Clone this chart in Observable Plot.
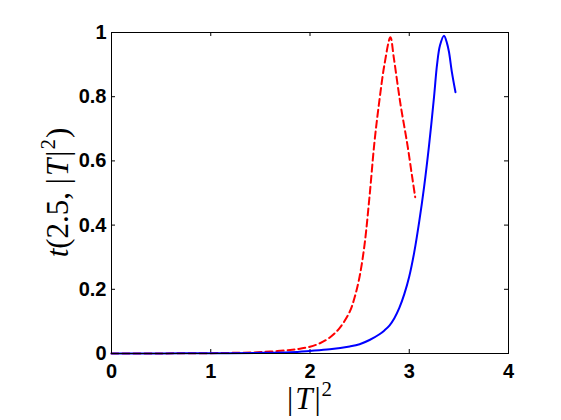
<!DOCTYPE html>
<html><head><meta charset="utf-8">
<script src="https://cdn.jsdelivr.net/npm/d3@7"></script>
<script src="https://cdn.jsdelivr.net/npm/@observablehq/plot@0.6"></script>
<style>body{margin:0;background:#fff}</style>
</head><body><div id="chart"></div>
<script>
// Solid blue curve
const blueX = [0, 0.5, 1.0, 1.5, 1.8, 2.0, 2.2, 2.4, 2.5, 2.6, 2.7, 2.75, 2.8, 2.85, 2.9, 2.95, 3.0, 3.05, 3.1, 3.15, 3.2, 3.25, 3.28, 3.31, 3.35, 3.38, 3.40, 3.43, 3.466];
const blueY = [0, 0.0002, 0.0008, 0.002, 0.004, 0.008, 0.013, 0.022, 0.029, 0.042, 0.06, 0.072, 0.087, 0.11, 0.142, 0.185, 0.24, 0.315, 0.41, 0.52, 0.65, 0.8, 0.9, 0.96, 0.99, 0.967, 0.94, 0.876, 0.814];
// Dashed red curve
const redX = [0, 0.5, 1.0, 1.2, 1.4, 1.6, 1.8, 1.9, 2.0, 2.1, 2.2, 2.3, 2.4, 2.45, 2.5, 2.55, 2.6, 2.65, 2.7, 2.75, 2.81, 2.845, 2.91, 2.98, 3.03, 3.06];
const redY = [0, 0.0003, 0.001, 0.002, 0.003, 0.006, 0.011, 0.015, 0.021, 0.032, 0.05, 0.08, 0.13, 0.175, 0.24, 0.34, 0.49, 0.66, 0.79, 0.9, 0.985, 0.92, 0.78, 0.653, 0.549, 0.487];
// Ticks
const xTicks = [0, 1, 2, 3, 4];
const yTicks = [0, 0.2, 0.4, 0.6, 0.8, 1];
const yTickLabels = ["0", "0.2", "0.4", "0.6", "0.8", "1"];

const blue = blueX.map((x, i) => ({x, y: blueY[i]}));
const red = redX.map((x, i) => ({x, y: redY[i]}));

const W = 561, H = 420, mL = 111, mR = 53, mT = 32, mB = 67;
const fw = W - mL - mR, fh = H - mT - mB, tl = 4;

const plot = Plot.plot({
  width: W, height: H,
  marginLeft: mL, marginRight: mR, marginTop: mT, marginBottom: mB,
  x: {domain: [0, 4]},
  y: {domain: [0, 1]},
  style: {fontFamily: "'Liberation Sans', Arial, sans-serif", fontSize: "20px", fontWeight: "bold", background: "white", color: "black"},
  marks: [
    Plot.ruleX(xTicks, {x: d => d, insetTop: fh - tl, stroke: "black"}),
    Plot.ruleX(xTicks, {x: d => d, insetBottom: fh - tl, stroke: "black"}),
    Plot.ruleY(yTicks, {y: d => d, insetRight: fw - tl, stroke: "black"}),
    Plot.ruleY(yTicks, {y: d => d, insetLeft: fw - tl, stroke: "black"}),
    Plot.axisX({ticks: xTicks, tickSize: 0, tickPadding: 10, label: null, tickFormat: d => String(d)}),
    Plot.axisY({ticks: yTicks, tickSize: 0, tickPadding: 5, label: null, tickFormat: (d, i) => yTickLabels[i]}),
    Plot.line(red, {x: "x", y: "y", stroke: "#ff0000", strokeWidth: 2, strokeDasharray: "7,4", curve: "catmull-rom"}),
    Plot.line(blue, {x: "x", y: "y", stroke: "#0000ff", strokeWidth: 2, curve: "catmull-rom"}),
    Plot.frame({stroke: "black", strokeWidth: 1})
  ]
});

const svg = d3.select(plot);
const serif = "'Liberation Serif', 'Times New Roman', serif";
// x axis label |T|^2
const xl = svg.append("text")
  .attr("x", mL + fw / 2).attr("y", 409)
  .attr("text-anchor", "middle")
  .style("font-family", serif).style("font-size", "31px").style("font-weight", "normal");
xl.append("tspan").text("|");
xl.append("tspan").attr("dx", "2").style("font-style", "italic").text("T");
xl.append("tspan").attr("dx", "2").text("|");
xl.append("tspan").attr("dy", "-13").attr("dx", "1").style("font-size", "21px").text("2");

// y axis label t(2.5, |T|^2)
const yl = svg.append("text")
  .attr("transform", `translate(68,${mT + fh / 2}) rotate(-90)`)
  .attr("text-anchor", "middle")
  .style("font-family", serif).style("font-size", "31px").style("font-weight", "normal");
yl.append("tspan").style("font-style", "italic").text("t");
yl.append("tspan").text("(2.5, |");
yl.append("tspan").attr("dx", "2").style("font-style", "italic").text("T");
yl.append("tspan").attr("dx", "2").text("|");
yl.append("tspan").attr("dy", "-13").attr("dx", "1").style("font-size", "21px").text("2");
yl.append("tspan").attr("dy", "13").attr("dx", "1").text(")");

document.getElementById("chart").appendChild(plot);
</script>
</body></html>
